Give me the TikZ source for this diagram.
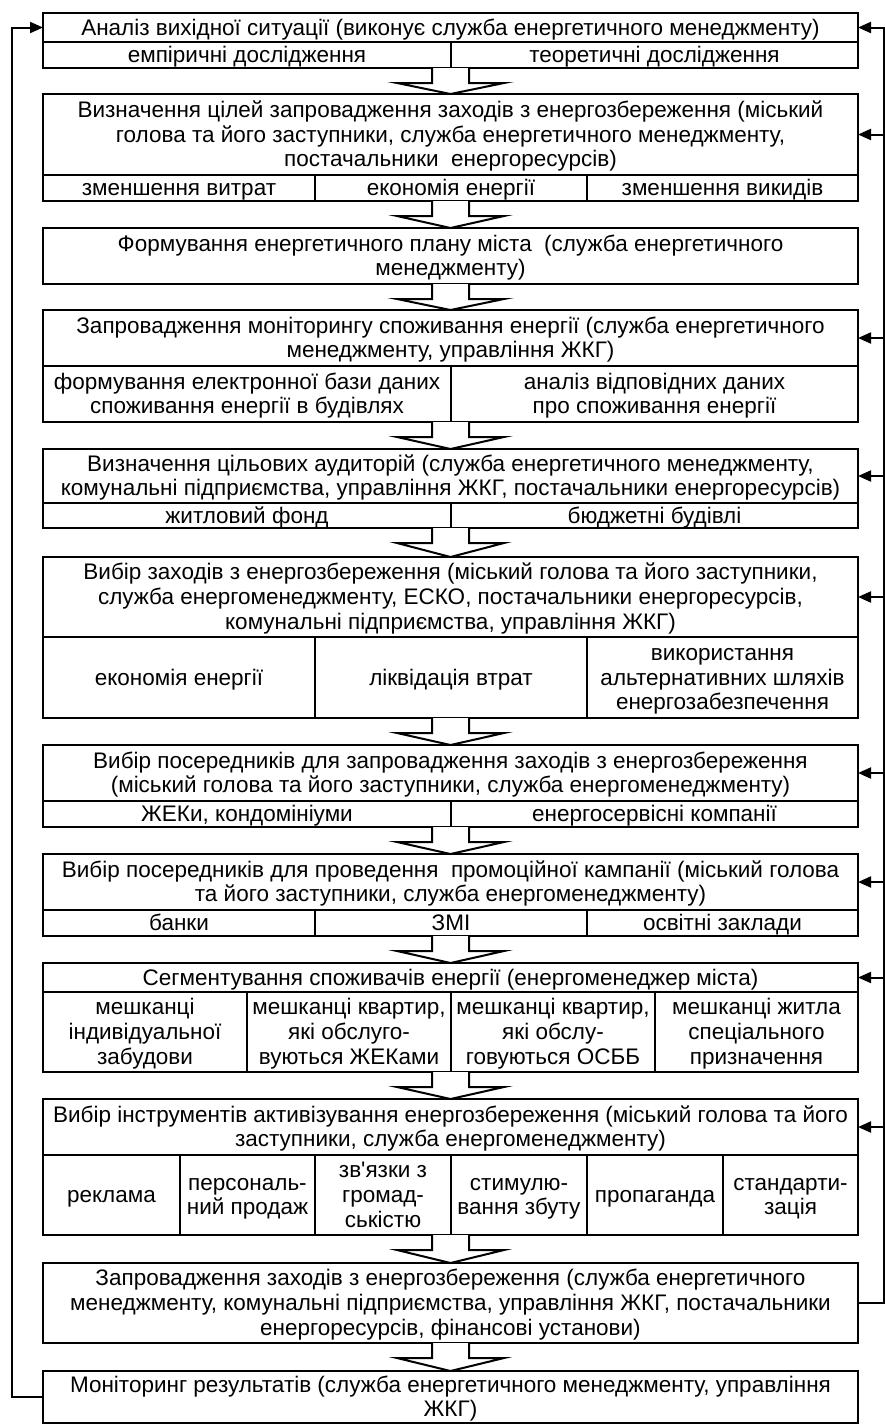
\documentclass[tikz,border=0pt]{standalone}
\usepackage{fontspec}
\setmainfont{Liberation Sans}
\newfontfamily\aposfont{Liberation Sans}
\usetikzlibrary{arrows.meta,calc}
\tikzset{
  cellbox/.style={draw,line width=2pt,align=center,inner sep=0pt,outer sep=0pt,
    font=\fontsize{22.5}{24.6}\selectfont},
  framebox/.style={draw,line width=2pt,inner sep=0pt,outer sep=0pt},
  blockarrow/.style={draw,fill=white,line width=2pt,line join=miter},
  fbarrow/.style={line width=2pt,-{Triangle[length=13pt,width=11pt]}},
}
\newcommand\topstrut{\rule{0pt}{20pt}}
\newcommand\botstrut{\rule[-5pt]{0pt}{5pt}}
\newcommand\cellat[6]{\node[cellbox,minimum width={(#4)-(#2)},minimum height={(#5)-(#3)}] (#1) at ({((#2)+(#4))/2},{((#3)+(#5))/2}) {\topstrut #6\botstrut};}
\newcommand\frameat[5]{\node[framebox,minimum width={(#4)-(#2)},minimum height={(#5)-(#3)}] (#1) at ({((#2)+(#4))/2},{((#3)+(#5))/2}) {};}
\newcommand\barrow[2]{\draw[blockarrow] let \p1=(#1.south), \p2=(#2.north) in
  (\x1-18.5pt,\y1) -- (\x1-18.5pt,\y1-15pt) -- (\x1-53.5pt,\y1-15pt) -- (\x1,\y2)
  -- (\x1+53.5pt,\y1-15pt) -- (\x1+18.5pt,\y1-15pt) -- (\x1+18.5pt,\y1);}
\begin{document}
\begin{tikzpicture}[x=1pt,y=-1pt]
\useasboundingbox (0,0) rectangle (885,1425);
% B1
\frameat{b1}{43}{13}{858}{68}
\cellat{b1h}{43}{13}{858}{42}{Аналіз вихідної ситуації (виконує служба енергетичного менеджменту)}
\cellat{b1a}{43}{42}{451}{68}{емпіричні дослідження}
\cellat{b1b}{451}{42}{858}{68}{теоретичні дослідження}
% B2
\frameat{b2}{43}{94}{858}{201}
\cellat{b2h}{43}{94}{858}{175}{Визначення цілей запровадження заходів з енергозбереження (міський\\голова та його заступники, служба енергетичного менеджменту,\\постачальники\ \ енергоресурсів)}
\cellat{b2a}{43}{175}{315}{201}{зменшення витрат}
\cellat{b2b}{315}{175}{587}{201}{економія енергії}
\cellat{b2c}{587}{175}{858}{201}{зменшення викидів}
% B3
\frameat{b3}{43}{228}{858}{284}
\cellat{b3h}{43}{228}{858}{284}{Формування енергетичного плану міста\ \ (служба енергетичного\\менеджменту)}
% B4
\frameat{b4}{43}{310}{858}{422}
\cellat{b4h}{43}{310}{858}{366}{Запровадження моніторингу споживання енергії (служба енергетичного\\менеджменту, управління ЖКГ)}
\cellat{b4a}{43}{366}{451}{422}{формування електронної бази даних\\споживання енергії в будівлях}
\cellat{b4b}{451}{366}{858}{422}{аналіз відповідних даних\\про споживання енергії}
% B5
\frameat{b5}{43}{449}{858}{528}
\cellat{b5h}{43}{449}{858}{503}{Визначення цільових аудиторій (служба енергетичного менеджменту,\\комунальні підприємства, управління ЖКГ, постачальники енергоресурсів)}
\cellat{b5a}{43}{503}{451}{528}{житловий фонд}
\cellat{b5b}{451}{503}{858}{528}{бюджетні будівлі}
% B6
\frameat{b6}{43}{557}{858}{718}
\cellat{b6h}{43}{557}{858}{637}{Вибір заходів з енергозбереження (міський голова та його заступники,\\служба енергоменеджменту, ЕСКО, постачальники енергоресурсів,\\комунальні підприємства, управління ЖКГ)}
\cellat{b6a}{43}{637}{315}{718}{економія енергії}
\cellat{b6b}{315}{637}{587}{718}{ліквідація втрат}
\cellat{b6c}{587}{637}{858}{718}{використання\\альтернативних шляхів\\енергозабезпечення}
% B7
\frameat{b7}{43}{745}{858}{827}
\cellat{b7h}{43}{745}{858}{801}{Вибір посередників для запровадження заходів з енергозбереження\\(міський голова та його заступники, служба енергоменеджменту)}
\cellat{b7a}{43}{801}{451}{827}{ЖЕКи, кондомініуми}
\cellat{b7b}{451}{801}{858}{827}{енергосервісні компанії}
% B8
\frameat{b8}{43}{854}{858}{936}
\cellat{b8h}{43}{854}{858}{910}{Вибір посередників для проведення\ \ промоційної кампанії (міський голова\\та його заступники, служба енергоменеджменту)}
\cellat{b8a}{43}{910}{315}{936}{банки}
\cellat{b8b}{315}{910}{587}{936}{ЗМІ}
\cellat{b8c}{587}{910}{858}{936}{освітні заклади}
% B9
\frameat{b9}{43}{963}{858}{1072}
\cellat{b9h}{43}{963}{858}{992}{Сегментування споживачів енергії (енергоменеджер міста)}
\cellat{b9a}{43}{992}{247}{1072}{мешканці\\індивідуальної\\забудови}
\cellat{b9b}{247}{992}{451}{1072}{мешканці квартир,\\які обслуго-\\вуються ЖЕКами}
\cellat{b9c}{451}{992}{655}{1072}{мешканці квартир,\\які обслу-\\говуються ОСББ}
\cellat{b9d}{655}{992}{858}{1072}{мешканці житла\\спеціального\\призначення}
% B10
\frameat{b10}{43}{1099}{858}{1235}
\cellat{b10h}{43}{1099}{858}{1155}{Вибір інструментів активізування енергозбереження (міський голова та його\\заступники, служба енергоменеджменту)}
\cellat{b10a}{43}{1155}{180}{1235}{реклама}
\cellat{b10b}{180}{1155}{315}{1235}{персональ-\\ний продаж}
\cellat{b10c}{315}{1155}{451}{1235}{зв{\aposfont'}язки з\\громад-\\ськістю}
\cellat{b10d}{451}{1155}{587}{1235}{стимулю-\\вання збуту}
\cellat{b10e}{587}{1155}{723}{1235}{пропаганда}
\cellat{b10f}{723}{1155}{858}{1235}{стандарти-\\зація}
% B11
\frameat{b11}{43}{1263}{858}{1343}
\cellat{b11h}{43}{1263}{858}{1343}{Запровадження заходів з енергозбереження (служба енергетичного\\менеджменту, комунальні підприємства, управління ЖКГ, постачальники\\енергоресурсів, фінансові установи)}
% B12
\frameat{b12}{43}{1371}{858}{1423}
\cellat{b12h}{43}{1371}{858}{1423}{Моніторинг результатів (служба енергетичного менеджменту, управління\\ЖКГ)}
% block arrows
\barrow{b1}{b2}
\barrow{b2}{b3}
\barrow{b3}{b4}
\barrow{b4}{b5}
\barrow{b5}{b6}
\barrow{b6}{b7}
\barrow{b7}{b8}
\barrow{b8}{b9}
\barrow{b9}{b10}
\barrow{b10}{b11}
\barrow{b11}{b12}
% feedback lines
\coordinate (lft) at (12,0);
\coordinate (rgt) at (884,0);
\draw[fbarrow] (b12.west) -| (lft |- b1h.west) -- (b1h.west);
\draw[fbarrow] (b11.east) -| (rgt |- b1h.east) -- (b1h.east);
\foreach \n in {b2h,b4h,b5h,b6h,b7h,b8h,b9h,b10h}{
  \draw[fbarrow] (rgt |- \n.east) -- (\n.east);
}
\end{tikzpicture}
\end{document}
